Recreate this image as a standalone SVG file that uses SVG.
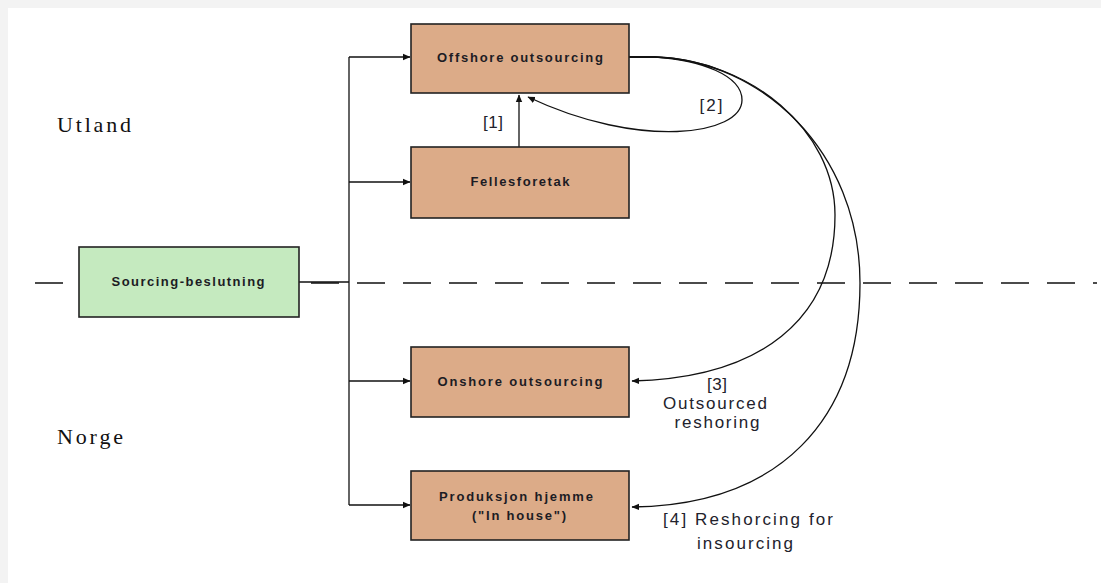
<svg xmlns="http://www.w3.org/2000/svg" width="1101" height="583" viewBox="0 0 1101 583">
  <style>
    .box { fill: #dcab88; stroke: #222; stroke-width: 1.6; }
    .start { fill: #c5eabf; stroke: #222; stroke-width: 1.6; }
    .btxt { font-family: "Liberation Sans", Arial, sans-serif; font-size: 13px; font-weight: bold; fill: #1c1c24; text-anchor: middle; }
    .lbl { font-family: "Liberation Sans", Arial, sans-serif; font-size: 17px; fill: #22222c; text-anchor: middle; }
    .region { font-family: "Liberation Serif", "Times New Roman", serif; font-size: 22px; fill: #111; }
    .wire { fill: none; stroke: #111; stroke-width: 1.3; }
    .arc { fill: none; stroke: #111; stroke-width: 1.3; marker-end: url(#head); }
  </style>
  <defs>
    <marker id="head" markerWidth="8" markerHeight="8" refX="7" refY="4" orient="auto" markerUnits="userSpaceOnUse">
      <path d="M0,0.8 L7.5,4 L0,7.2 Z" fill="#111"/>
    </marker>
  </defs>

  <!-- page frame -->
  <rect x="0" y="0" width="1101" height="583" fill="#f3f3f3"/>
  <rect x="8" y="8" width="1093" height="575" fill="#ffffff"/>

  <!-- border between abroad and home -->
  <line x1="35" y1="283" x2="1097" y2="283" stroke="#111" stroke-width="1.3" stroke-dasharray="28 18"/>

  <text class="region" x="57" y="132" textLength="74" lengthAdjust="spacing">Utland</text>
  <text class="region" x="57" y="444" textLength="66" lengthAdjust="spacing">Norge</text>

  <g id="connectors">
    <!-- trunk from decision to the four options -->
    <polyline class="wire" points="299,282 349,282"/>
    <polyline class="wire" points="349,57 349,505"/>
    <line class="arc" x1="349" y1="57" x2="410" y2="57"/>
    <line class="arc" x1="349" y1="182" x2="410" y2="182"/>
    <line class="arc" x1="349" y1="381" x2="410" y2="381"/>
    <line class="arc" x1="349" y1="505" x2="410" y2="505"/>
    <!-- [1] joint venture to offshore -->
    <line class="arc" x1="519" y1="147" x2="519" y2="95"/>
    <!-- [2] offshore back to offshore -->
    <path class="arc" d="M629,57 L655,57 C700,60 742,75 742,100 C742,135 640,150 528,97"/>
    <!-- [3] offshore to onshore -->
    <path class="arc" d="M629,57 L655,57 C750,60 835,130 835,215 C835,320 760,378 632,381"/>
    <!-- [4] offshore to in-house -->
    <path class="arc" d="M629,57 L655,57 C760,60 860,150 860,283 C860,420 780,505 632,507"/>
  </g>

  <g id="sourcing-beslutning">
    <rect class="start" x="79" y="247" width="220" height="70"/>
    <text class="btxt" x="188" y="286" textLength="153" lengthAdjust="spacing">Sourcing-beslutning</text>
  </g>

  <g id="offshore">
    <rect class="box" x="411" y="24" width="218" height="69"/>
    <text class="btxt" x="520" y="62" textLength="166" lengthAdjust="spacing">Offshore outsourcing</text>
  </g>

  <g id="fellesforetak">
    <rect class="box" x="411" y="147" width="218" height="71"/>
    <text class="btxt" x="520" y="186" textLength="99" lengthAdjust="spacing">Fellesforetak</text>
  </g>

  <g id="onshore">
    <rect class="box" x="411" y="347" width="218" height="70"/>
    <text class="btxt" x="520" y="386" textLength="165" lengthAdjust="spacing">Onshore outsourcing</text>
  </g>

  <g id="produksjon">
    <rect class="box" x="411" y="471" width="218" height="69"/>
    <text class="btxt" x="516" y="501" textLength="154" lengthAdjust="spacing">Produksjon hjemme</text>
    <text class="btxt" x="519" y="520" textLength="94" lengthAdjust="spacing">("In house")</text>
  </g>

  <g id="labels">
    <text class="lbl" x="493" y="128" textLength="20" lengthAdjust="spacing">[1]</text>
    <text class="lbl" x="711" y="111" textLength="23" lengthAdjust="spacing">[2]</text>
    <text class="lbl" x="717" y="390" textLength="20" lengthAdjust="spacing">[3]</text>
    <text class="lbl" x="715" y="409" textLength="104" lengthAdjust="spacing">Outsourced</text>
    <text class="lbl" x="717" y="428" textLength="85" lengthAdjust="spacing">reshoring</text>
    <text class="lbl" x="748" y="525" textLength="170" lengthAdjust="spacing">[4] Reshorcing for</text>
    <text class="lbl" x="745" y="549" textLength="96" lengthAdjust="spacing">insourcing</text>
  </g>
</svg>
